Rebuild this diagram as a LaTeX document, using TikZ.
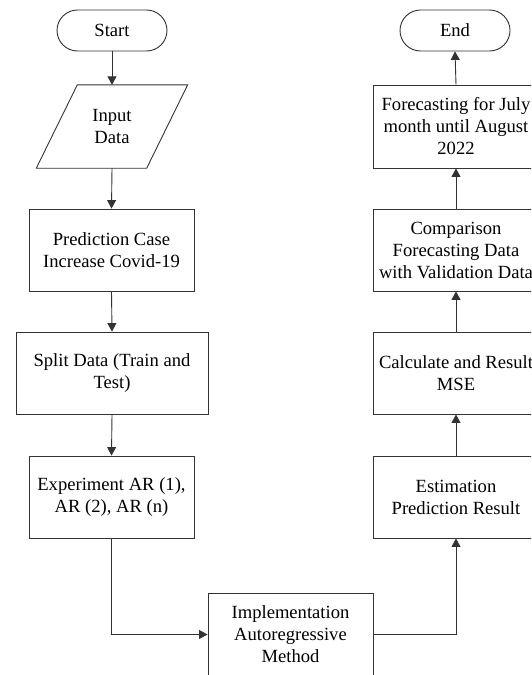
\documentclass[tikz,border=0pt]{standalone}
\usepackage{fontspec}
\setmainfont{Liberation Serif}
\usetikzlibrary{arrows.meta}
\begin{document}
\begin{tikzpicture}[x=1pt,y=-1pt,
  every node/.style={font=\fontsize{18.6}{22}\selectfont, align=center, inner sep=0pt},
  box/.style={draw=black!80, line width=0.9pt, rectangle, minimum width=165pt, minimum height=82pt},
  term/.style={draw=black!80, line width=0.9pt, rectangle, rounded corners=20.5pt, minimum width=110pt, minimum height=41pt},
  arr/.style={draw=black!80, line width=0.9pt, -{Triangle[length=8.5pt,width=9pt]}}]
\useasboundingbox (0,0) rectangle (531,675);
\clip (0,0) rectangle (531,675);
% left column
\node[term] (start) at (112,30.5) {Start};
\node[minimum width=110pt, minimum height=83pt] (input) at (112,126.5) {Input\\Data};
\draw[draw=black!80, line width=0.9pt] ([xshift=20.5pt]input.north west) -- ([xshift=20.5pt]input.north east)
  -- ([xshift=-20.5pt]input.south east) -- ([xshift=-20.5pt]input.south west) -- cycle;
\node[box] (pred) at (111.5,250) {Prediction Case\\Increase Covid-19};
\node[box, minimum width=192pt] (split) at (112,373) {Split Data (Train and\\Test)};
\node[box] (exp) at (111.5,497) {Experiment AR (1),\\AR (2), AR (n)};
% bottom
\node[box] (impl) at (290.5,634.5) {Implementation\\Autoregressive\\Method};
% right column
\node[box, minimum width=166pt] (est) at (456,497) {Estimation\\Prediction Result};
\node[box, minimum width=166pt] (calc) at (456,373) {Calculate and Result\\MSE};
\node[box, minimum width=166pt] (comp) at (456,250) {Comparison\\Forecasting Data\\with Validation Data};
\node[box, minimum width=166pt, minimum height=83pt] (fore) at (456,126.5) {Forecasting for July\\month until August\\2022};
\node[term] (end) at (455,30.5) {End};
% connectors
\draw[arr] (start.south) -- (input.north);
\draw[arr] (input.south) -- (pred.north);
\draw[arr] (pred.south) -- (split.north);
\draw[arr] (split.south) -- (exp.north);
\draw[arr] (exp.south) |- (impl.west);
\draw[arr] (impl.east) -| (est.south);
\draw[arr] (est.north) -- (calc.south);
\draw[arr] (calc.north) -- (comp.south);
\draw[arr] (comp.north) -- (fore.south);
\draw[arr] (fore.north) -- (end.south);
\end{tikzpicture}
\end{document}
